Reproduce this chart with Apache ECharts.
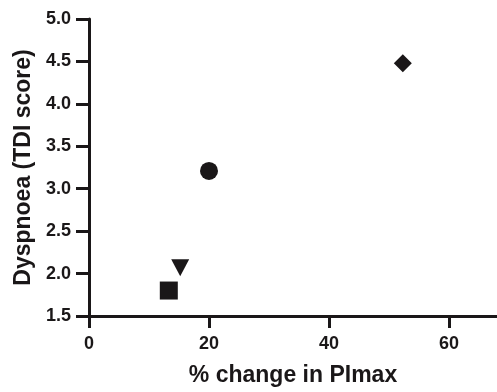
<!DOCTYPE html>
<html>
<head>
<meta charset="utf-8">
<script src="https://cdn.jsdelivr.net/npm/echarts@6/dist/echarts.min.js"></script>
<style>
html,body{margin:0;padding:0;background:#fff;}
#chart{width:497px;height:392px;}
</style>
</head>
<body>
<div id="chart"></div>
<script>
// Data
const pointNames = ['Square', 'Triangle', 'Circle', 'Diamond'];
const pimaxChange = [13.3, 15.2, 20.0, 52.3];
const tdiScore = [1.80, 2.07, 3.21, 4.48];
const xTicks = [0, 20, 40, 60];
const yTicks = [1.5, 2.0, 2.5, 3.0, 3.5, 4.0, 4.5, 5.0];

const ink = '#1a1718';
const markerStyles = [
  { symbol: 'rect', rotate: 0, size: 18 },
  { symbol: 'triangle', rotate: 180, size: [18, 17] },
  { symbol: 'circle', rotate: 0, size: 18 },
  { symbol: 'diamond', rotate: 0, size: 18 }
];

const series = pointNames.map((name, i) => ({
  name: name,
  type: 'scatter',
  symbol: markerStyles[i].symbol,
  symbolRotate: markerStyles[i].rotate,
  symbolSize: markerStyles[i].size,
  itemStyle: { color: ink, opacity: 1 },
  emphasis: { disabled: true },
  data: [[pimaxChange[i], tdiScore[i]]],
  z: 5
}));

const chart = echarts.init(document.getElementById('chart'), null, { renderer: 'canvas' });
chart.setOption({
  animation: false,
  backgroundColor: '#fff',
  grid: { left: 89, right: 0, top: 19, bottom: 73, containLabel: false },
  xAxis: {
    type: 'value',
    min: 0, max: 68, interval: 20,
    name: '% change in PImax',
    nameLocation: 'middle',
    nameGap: 48,
    nameTextStyle: { fontFamily: 'Liberation Sans', fontWeight: 'bold', fontSize: 23, color: ink },
    axisLine: { show: true, onZero: false, lineStyle: { color: ink, width: 3 } },
    axisTick: { show: true, length: 12, customValues: xTicks, lineStyle: { color: ink, width: 3 } },
    axisLabel: { customValues: xTicks, margin: 19, fontFamily: 'Liberation Sans', fontWeight: 'bold', fontSize: 18, color: ink },
    splitLine: { show: false }
  },
  yAxis: {
    type: 'value',
    min: 1.5, max: 5.0, interval: 0.5,
    name: 'Dyspnoea (TDI score)',
    nameLocation: 'middle',
    nameGap: 54,
    nameRotate: 90,
    nameTextStyle: { fontFamily: 'Liberation Sans', fontWeight: 'bold', fontSize: 23, color: ink },
    axisLine: { show: true, onZero: false, lineStyle: { color: ink, width: 3 } },
    axisTick: { show: true, length: 13, customValues: yTicks, lineStyle: { color: ink, width: 3 } },
    axisLabel: { customValues: yTicks, margin: 18, fontFamily: 'Liberation Sans', fontWeight: 'bold', fontSize: 18, color: ink,
      formatter: v => Number(v).toFixed(1) },
    splitLine: { show: false }
  },
  series: series
});
</script>
</body>
</html>
